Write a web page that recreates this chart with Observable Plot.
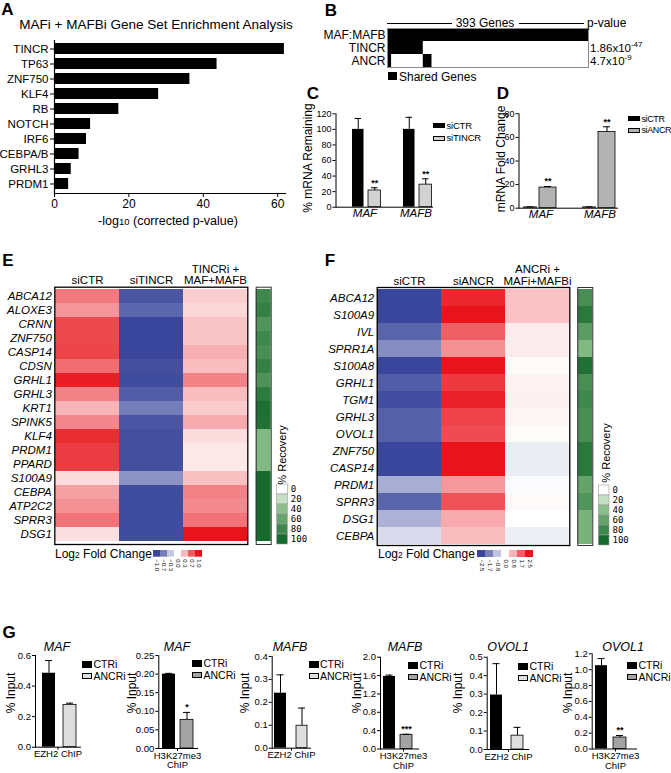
<!DOCTYPE html>
<html><head><meta charset="utf-8">
<script src="https://cdn.jsdelivr.net/npm/d3@7"></script>
<script src="https://cdn.jsdelivr.net/npm/@observablehq/plot@0.6"></script>
<style>
body{margin:0;background:#fff;}
#fig{position:relative;width:671px;height:773px;overflow:hidden;font-family:'Liberation Sans',Arial,Helvetica,sans-serif;color:#000;background:#fff;}
#fig svg{position:absolute;left:0;top:0;}
.t{position:absolute;white-space:nowrap;line-height:1;}
</style></head><body><div id="fig"></div>
<script>
// ---------------- DATA ----------------
// A: gene set enrichment
const gseaTerms = ["TINCR","TP63","ZNF750","KLF4","RB","NOTCH","IRF6","CEBPA/B","GRHL3","PRDM1"];
const gseaScore = [61.8, 43.7, 36.4, 28.0, 17.3, 9.7, 8.6, 6.6, 4.5, 3.8];
const gseaTicks = [0, 20, 40, 60];

// B: overlap of gene sets
const overlapSets = ["MAF:MAFB", "TINCR", "ANCR"];
const overlapTotal = 393;
const segSet  = ["MAF:MAFB", "TINCR", "ANCR", "ANCR"];
const segFrom = [0, 0, 0, 70];
const segTo   = [393, 70, 8, 87];
const pMantissa = ["", "1.86", "4.7"];
const pExponent = ["", "-47", "-9"];

// C: TINCR knockdown qPCR
const qpcrGenes = ["MAF", "MAFB"];
const tincrLegend = ["siCTR", "siTINCR"];
const tincrCtrMean = [100, 100];
const tincrCtrErr  = [14, 15.5];
const tincrKdMean  = [21.5, 29];
const tincrKdErr   = [3.5, 7.5];
const tincrSig     = ["**", "**"];
const tincrTicks   = [0, 20, 40, 60, 80, 100, 120];

// D: ANCR knockdown qPCR
const ancrLegend = ["siCTR", "siANCR"];
const ancrCtrMean = [1, 1];
const ancrCtrErr  = [0.2, 0.2];
const ancrKdMean  = [17.5, 64.5];
const ancrKdErr   = [0.9, 4.5];
const ancrSig     = ["**", "**"];
const ancrTicks   = [0, 20, 40, 60, 80];

// E: heatmap (log2 fold change) TINCR
const eGenes = ["ABCA12","ALOXE3","CRNN","ZNF750","CASP14","CDSN","GRHL1","GRHL3","KRT1","SPINK5","KLF4","PRDM1","PPARD","S100A9","CEBPA","ATP2C2","SPRR3","DSG1"];
const eColumns = ["siCTR", "siTINCR", "TINCRi +\nMAF+MAFB"];
const eSiCTR   = [0.57,0.45,0.77,0.77,0.80,0.62,0.96,0.53,0.32,0.51,0.90,0.83,0.83,0.15,0.40,0.47,0.60,0.13];
const eSiTINCR = [-0.92,-0.82,-1.0,-1.0,-1.0,-0.95,-0.97,-0.88,-0.70,-0.92,-0.95,-0.95,-0.95,-0.58,-0.97,-0.97,-0.97,-0.97];
const eRescue  = [0.21,0.17,0.25,0.25,0.34,0.28,0.53,0.28,0.22,0.36,0.15,0.10,0.10,0.27,0.53,0.50,0.60,1.0];
const eRecovery = [80,85,70,80,75,85,72,88,97,95,45,45,45,100,100,100,100,100];
const eFcTicks = [-1.0,-0.7,-0.3,0.0,0.3,0.7,1.0];

// F: heatmap (log2 fold change) ANCR
const fGenes = ["ABCA12","S100A9","IVL","SPRR1A","S100A8","GRHL1","TGM1","GRHL3","OVOL1","ZNF750","CASP14","PRDM1","SPRR3","DSG1","CEBPA"];
const fColumns = ["siCTR", "siANCR", "ANCRi +\nMAFi+MAFBi"];
const fSiCTR  = [-2.5,-2.5,-2.1,-1.55,-2.5,-2.2,-2.4,-2.15,-2.15,-2.5,-2.5,-1.1,-2.1,-1.05,-0.5];
const fSiANCR = [2.3,2.5,1.7,1.17,2.5,2.1,2.35,2.0,1.9,2.5,2.5,1.1,1.85,0.9,0.7];
const fRescue = [0.65,0.65,0.2,0.2,0.05,0.12,0.15,0.1,0.03,-0.25,-0.25,-0.05,0.05,0.0,-0.22];
const fRecovery = [75,90,65,45,95,75,80,75,75,90,90,60,70,50,50];
const fFcTicks = [-2.5,-1.7,-0.8,0.0,0.8,1.7,2.5];

const recoveryTicks = [0, 20, 40, 60, 80, 100];

// G: ChIP
const chipGene  = ["MAF", "MAF", "MAFB", "MAFB", "OVOL1", "OVOL1"];
const chipAssay = ["EZH2 ChIP", "H3K27me3\nChIP", "EZH2 ChIP", "H3K27me3\nChIP", "EZH2 ChIP", "H3K27me3\nChIP"];
const chipLegend = ["CTRi", "ANCRi"];
const chipCtrMean = [0.484, 0.200, 0.240, 1.58, 0.295, 1.05];
const chipCtrErr  = [0.083, 0.002, 0.080, 0.03, 0.170, 0.09];
const chipKdMean  = [0.277, 0.077, 0.098, 0.31, 0.075, 0.145];
const chipKdErr   = [0.011, 0.020, 0.077, 0.01, 0.045, 0.025];
const chipSig     = ["", "*", "", "***", "", "**"];
const chipTicks = [[0,0.2,0.4,0.6],[0,0.05,0.10,0.15,0.20,0.25],[0,0.1,0.2,0.3,0.4],[0,0.4,0.8,1.2,1.6,2.0],[0,0.1,0.2,0.3,0.4,0.5],[0,0.2,0.4,0.6,0.8,1.0,1.2]];

// ---------------- LAYOUT HELPERS ----------------
const W = 671, H = 773;
const FONT = "'Liberation Sans', Arial, Helvetica, sans-serif";
const fig = document.getElementById("fig");
const baseStyle = {fontFamily: FONT, fontSize: "11px", background: "transparent", overflow: "visible", color: "black"};
function box(l, t, r, b) {
  return {width: W, height: H, marginLeft: l, marginTop: t, marginRight: W - r, marginBottom: H - b, style: baseStyle};
}
function add(opts) { const svg = Plot.plot(opts); fig.appendChild(svg); return svg; }
function txt(html, x, y, o = {}) {
  const d = document.createElement("div");
  d.className = "t";
  d.innerHTML = html;
  const ax = o.anchor || "middle";
  const tx = ax === "start" ? "0" : ax === "end" ? "-100%" : "-50%";
  d.style.left = x + "px"; d.style.top = y + "px";
  d.style.fontSize = (o.size || 11) + "px";
  if (o.weight) d.style.fontWeight = o.weight;
  if (o.italic) d.style.fontStyle = "italic";
  if (o.font) d.style.fontFamily = o.font;
  if (o.spacing) d.style.letterSpacing = o.spacing + "px";
  d.style.transform = `translate(${tx},-50%)` + (o.rotate ? ` rotate(${o.rotate}deg)` : "");
  fig.appendChild(d);
}
function rect(x, y, w, h, fill, stroke) {
  const d = document.createElement("div");
  d.style.cssText = `position:absolute;left:${x}px;top:${y}px;width:${w}px;height:${h}px;background:${fill};box-sizing:border-box;` + (stroke ? `border:1px solid ${stroke};` : "");
  fig.appendChild(d);
}
const BLUE = "#3a469b", RED = "#e8141c";
const heatColor = lim => ({type: "linear", domain: [-lim, 0, lim], range: [BLUE, "#ffffff", RED]});
const recColor = {type: "linear", domain: [0, 40, 100], range: ["#ffffff", "#8cc08a", "#176a2e"]};

// ---------------- PANEL LETTERS ----------------
[["A",7.5,9],["B",331,10],["C",313,93],["D",503,93],["E",8,260],["F",330,260],["G",9,631.5]]
  .forEach(([s, x, y]) => txt(s, x, y, {size: 17, weight: "bold"}));

// ---------------- A ----------------
add({...box(54, 40, 285, 193),
  x: {domain: [0, 62.1]},
  y: {domain: gseaTerms, paddingInner: 0.24, paddingOuter: 0.1},
  marks: [
    Plot.barX(gseaTerms, {y: d => d, x: (d, i) => gseaScore[i], fill: "black"}),
    Plot.axisX({ticks: gseaTicks, tickSize: 4, tickPadding: 2, fontSize: 12, label: null}),
    Plot.axisY({tickSize: 4, tickPadding: 2, fontSize: 11.5, label: null}),
    Plot.frame({anchor: "left", strokeWidth: 1.2}),
    Plot.frame({anchor: "bottom", strokeWidth: 1.2})
  ]});
txt("MAFi + MAFBi Gene Set Enrichment Analysis", 156, 25, {size: 13.5});
txt("-log<span style='font-size:9.5px'>10</span> (corrected p-value)", 168, 221, {size: 12.5});

// ---------------- B ----------------
add({...box(387, 28, 588, 67),
  x: {domain: [0, overlapTotal], axis: null},
  y: {domain: overlapSets, padding: 0},
  marks: [
    Plot.barX(segSet, {y: d => d, x1: (d, i) => segFrom[i], x2: (d, i) => segTo[i], fill: "black"}),
    Plot.frame({stroke: "#8a8a8a"}),
    Plot.axisY({tickSize: 0, tickPadding: 2, fontSize: 12, label: null})
  ]});
txt(`${overlapTotal} Genes`, 485, 23, {size: 12});
rect(387, 22.5, 65, 1, "#000");
rect(519, 22.5, 65, 1, "#000");
txt("p-value", 587, 23, {anchor: "start", size: 12});
overlapSets.forEach((s, i) => {
  if (!pMantissa[i]) return;
  txt(`${pMantissa[i]}x10<span style="font-size:8px;position:relative;top:-5px">${pExponent[i]}</span>`, 590, 28 + 13 * (i + 0.5) + 1, {anchor: "start", size: 11.5});
});
rect(388, 72, 9, 8, "#000");
txt("Shared Genes", 399, 76.5, {anchor: "start", size: 12});

// ---------------- bar-pair charts (C, D, G) ----------------
function pairChart(c) {
  const idx = c.groups.map((_, i) => i);
  const bw = (c.range[1] - c.range[0]) / c.groups.length;
  const grp = i => c.groups[i];
  function series(mean, err, inset, fill, stroke, sig) {
    const barW = bw - inset[0] - inset[1];
    const off = (inset[0] - inset[1]) / 2;
    const capPad = (barW - 7) / 2;
    const top = i => mean[i] + err[i];
    const m = [
      Plot.barY(idx, {x: grp, y: i => mean[i], fill, stroke: stroke || "none", strokeWidth: 0.8, insetLeft: inset[0], insetRight: inset[1]}),
      Plot.ruleX(idx, {x: grp, y1: i => mean[i], y2: top, dx: off, strokeWidth: 1}),
      Plot.tickY(idx, {x: grp, y: top, insetLeft: inset[0] + capPad, insetRight: inset[1] + capPad, strokeWidth: 1})
    ];
    if (sig) m.push(Plot.text(idx, {x: grp, y: top, text: i => sig[i], dx: off, dy: -5, fontSize: 9, fontWeight: "bold"}));
    return m;
  }
  return add({...box(...c.frame),
    x: {type: "band", domain: c.groups, range: c.range, padding: 0},
    y: {domain: [0, c.ticks[c.ticks.length - 1]]},
    marks: [
      ...series(c.ctrMean, c.ctrErr, c.ctrInset, "black", null, null),
      ...series(c.kdMean, c.kdErr, c.kdInset, c.kdFill, "black", c.sig),
      Plot.axisY({ticks: c.ticks, tickFormat: c.fmt ? d3.format(c.fmt) : undefined, tickSize: c.ytick || 4, tickPadding: 1.5, fontSize: c.yFont || 10, label: null}),
      Plot.axisX({tickSize: c.xTickSize || 0, tickPadding: c.xPad == null ? 2 : c.xPad, fontSize: c.xFont || 11.5, fontStyle: c.xItalic ? "italic" : "normal", label: null}),
      Plot.frame({anchor: "left"}),
      Plot.frame({anchor: "bottom"})
    ]});
}

// C
pairChart({groups: qpcrGenes, frame: [335.5, 113.3, 432, 206.7], range: [338, 441],
  ctrMean: tincrCtrMean, ctrErr: tincrCtrErr, kdMean: tincrKdMean, kdErr: tincrKdErr, sig: tincrSig,
  ctrInset: [13, 26.5], kdInset: [29, 9.5], kdFill: "#d2d2d2", ticks: tincrTicks, ytick: 3, yFont: 9, xItalic: true});
txt("% mRNA Remaining", 308, 158, {size: 12, rotate: -90});
rect(433, 123, 12, 5, "#000"); txt(tincrLegend[0], 446.5, 125.5, {anchor: "start", size: 9.5, spacing: -0.2});
rect(433, 135.5, 12, 5, "#d2d2d2", "#000"); txt(tincrLegend[1], 446.5, 138.3, {anchor: "start", size: 9.5, spacing: -0.2});

// D
pairChart({groups: qpcrGenes, frame: [518.5, 113.3, 617, 207.7], range: [511, 629],
  ctrMean: ancrCtrMean, ctrErr: ancrCtrErr, kdMean: ancrKdMean, kdErr: ancrKdErr, sig: ancrSig,
  ctrInset: [12, 33], kdInset: [28, 14], kdFill: "#b3b3b3", ticks: ancrTicks, ytick: 3, yFont: 9, xItalic: true});
txt("mRNA Fold Change", 501, 159, {size: 12, rotate: -90});
rect(628, 116, 12, 5, "#000"); txt(ancrLegend[0], 641.5, 118.5, {anchor: "start", size: 9, spacing: -0.4});
rect(628, 128, 12, 5, "#b3b3b3", "#000"); txt(ancrLegend[1], 641.5, 129.8, {anchor: "start", size: 9, spacing: -0.4});

// G
const chipLayout = [
  {frame: [35, 655, 80, 746.7],     range: [35, 80],   ctr: [7, 25], kd: [28, 4],  fmt: ".1f", kdFill: "#dedede", title: 57,  ylab: 11,  leg: 82,  legY: 664},
  {frame: [158.3, 655, 197, 748],   range: [158, 196], ctr: [4, 21], kd: [22, 3],  fmt: ".2f", kdFill: "#a3a3a3", title: 177, ylab: 132, leg: 192, legY: 663},
  {frame: [271.7, 656, 310, 747.7], range: [272, 310], ctr: [2, 24], kd: [24, 3],  fmt: ".1f", kdFill: "#dedede", title: 290, ylab: 245, leg: 308.5, legY: 664},
  {frame: [380, 656.7, 418, 748.5], range: [380, 426], ctr: [3, 31], kd: [20, 14], fmt: ".1f", kdFill: "#a3a3a3", title: 405, ylab: 357, leg: 408, legY: 665},
  {frame: [486.7, 656.7, 528, 749], range: [487, 529], ctr: [3, 27], kd: [24, 6],  fmt: ".1f", kdFill: "#dedede", title: 508, ylab: 458, leg: 518, legY: 666},
  {frame: [591.7, 653.3, 636, 748.5], range: [592, 638], ctr: [3, 31], kd: [21, 12], fmt: ".1f", kdFill: "#a3a3a3", title: 623, ylab: 568, leg: 627, legY: 665}
];
chipGene.forEach((g, k) => {
  const L = chipLayout[k];
  pairChart({groups: [chipAssay[k]], frame: L.frame, range: L.range,
    ctrMean: [chipCtrMean[k]], ctrErr: [chipCtrErr[k]], kdMean: [chipKdMean[k]], kdErr: [chipKdErr[k]], sig: [chipSig[k]],
    ctrInset: L.ctr, kdInset: L.kd, kdFill: L.kdFill, ticks: chipTicks[k], fmt: L.fmt, ytick: 3, yFont: 9.5,
    xTickSize: 3, xPad: 0.5, xFont: 9.5, xItalic: false});
  txt(g, L.title, 647, {size: 12.5, italic: true});
  txt("% Input", L.ylab, 693, {size: 12, rotate: -90});
  rect(L.leg, L.legY - 3, 10, 6.5, "#000"); txt(chipLegend[0], L.leg + 11.5, L.legY, {anchor: "start", size: 10.5});
  rect(L.leg, L.legY + 8.5, 10, 6.5, L.kdFill, "#000"); txt(chipLegend[1], L.leg + 11.5, L.legY + 11.8, {anchor: "start", size: 10.5});
});

// ---------------- Heatmaps (E, F) ----------------
function heatmap(c) {
  const cells = [];
  c.genes.forEach((g, i) => c.columns.forEach((col, j) => cells.push({gene: g, cond: col, v: c.values[j][i]})));
  add({...box(...c.frame),
    x: {domain: c.columns, padding: 0},
    y: {domain: c.genes, padding: 0},
    color: heatColor(c.limit),
    marks: [
      Plot.cell(cells, {x: "cond", y: "gene", fill: "v"}),
      Plot.frame({stroke: "black", strokeWidth: 1.3}),
      Plot.axisX({anchor: "top", tickSize: 0, tickPadding: 3, fontSize: 11.5, label: null}),
      Plot.axisY({tickSize: 0, tickPadding: 3, fontSize: 11.5, fontStyle: "italic", label: null})
    ]});
  add({...box(...c.recFrame),
    y: {domain: c.genes, padding: 0, axis: null},
    color: recColor,
    marks: [Plot.cell(c.genes, {y: d => d, fill: (d, i) => c.recovery[i]}), Plot.frame({stroke: "#333"})]});
  add({...box(...c.recLegFrame),
    y: {domain: recoveryTicks, padding: 0},
    color: recColor,
    marks: [
      Plot.cell(recoveryTicks, {y: d => d, fill: d => d, stroke: "#999", strokeWidth: 0.6}),
      Plot.axisY({anchor: "right", tickSize: 0, tickPadding: 3, fontFamily: "DejaVu Sans Mono", fontSize: 9, label: null})
    ]});
  add({...box(...c.fcLegFrame),
    x: {domain: c.fcTicks, padding: 0},
    color: heatColor(c.limit),
    marks: [
      Plot.cell(c.fcTicks, {x: d => d, fill: d => d}),
      Plot.axisX({tickSize: 0, tickPadding: 2, tickRotate: 90, fontSize: 6, tickFormat: d3.format(".1f"), label: null})
    ]});
  txt("% Recovery", c.recLabel[0], c.recLabel[1], {size: 11, rotate: -90});
  txt("Log<span style='font-size:8.5px'>2</span> Fold Change", c.fcLabel[0], c.fcLabel[1], {anchor: "start", size: 12});
}
heatmap({genes: eGenes, columns: eColumns, values: [eSiCTR, eSiTINCR, eRescue], limit: 1, recovery: eRecovery, fcTicks: eFcTicks,
  frame: [54.3, 286.7, 247.3, 544], recFrame: [255.7, 286.7, 270.7, 544], recLegFrame: [276.7, 484, 287.3, 544],
  fcLegFrame: [150.7, 550, 203.3, 556.7], recLabel: [282, 455], fcLabel: [55, 554]});
heatmap({genes: fGenes, columns: fColumns, values: [fSiCTR, fSiANCR, fRescue], limit: 2.5, recovery: fRecovery, fcTicks: fFcTicks,
  frame: [376.7, 287, 569.3, 545], recFrame: [577.3, 287, 592.3, 545], recLegFrame: [598.3, 484, 609, 545],
  fcLegFrame: [476.7, 550, 534, 557], recLabel: [605.7, 453], fcLabel: [378, 554]});
</script></body></html>
